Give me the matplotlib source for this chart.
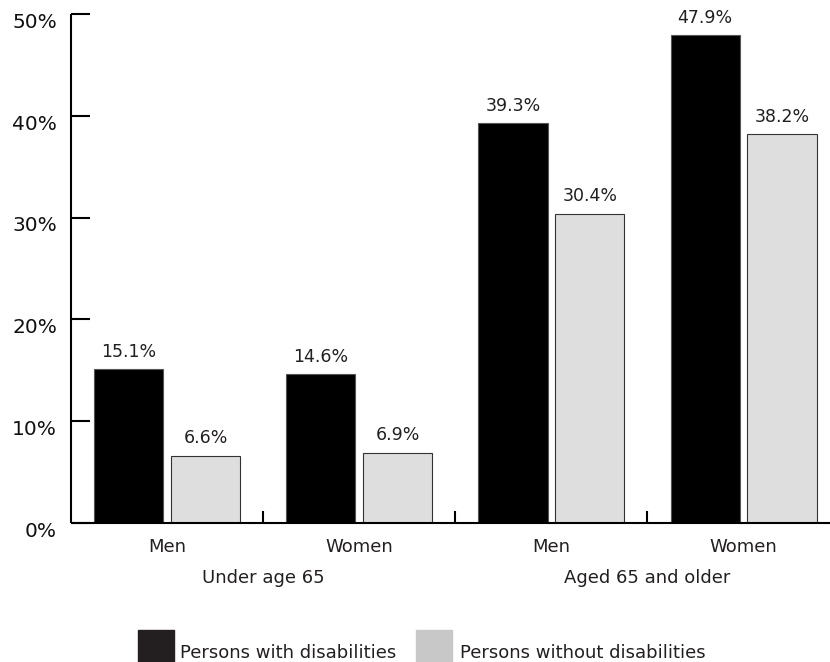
import matplotlib
matplotlib.use("Agg")
import matplotlib.pyplot as plt
import matplotlib.patches as mpatches
import numpy as np

plt.rcParams['font.family'] = ['DejaVu Sans']

categories = ["Men", "Women", "Men", "Women"]
groups = ["Under age 65", "Aged 65 and older"]
with_dis = [15.1, 14.6, 39.3, 47.9]
without_dis = [6.6, 6.9, 30.4, 38.2]
yticks = [0, 10, 20, 30, 40, 50]
ytick_labels = ["0%", "10%", "20%", "30%", "40%", "50%"]
legend_labels = ["Persons with disabilities", "Persons without disabilities"]

fig = plt.figure(figsize=(8.3, 6.62), dpi=100)
ax = fig.add_axes([71 / 830, 139 / 662, 1 - 71 / 830, 509 / 662])

x = np.arange(len(categories))
w = 0.36
off = 0.2
b1 = ax.bar(x - off, with_dis, w, color="black", edgecolor="#555555", linewidth=0.8)
b2 = ax.bar(x + off, without_dis, w, color="#dedede", edgecolor="#333333", linewidth=0.8)

for bars, vals in ((b1, with_dis), (b2, without_dis)):
    for r, v in zip(bars, vals):
        ax.annotate(f"{v}%", (r.get_x() + r.get_width() / 2, v),
                    xytext=(0, 6), textcoords="offset points",
                    ha="center", va="bottom", fontsize=12.5, color="#231f20")

ax.set_xlim(-0.5, 3.45)
ax.set_ylim(0, 50)
for s in ("top", "right"):
    ax.spines[s].set_visible(False)
for s in ("left", "bottom"):
    ax.spines[s].set_linewidth(1.5)
    ax.spines[s].set_capstyle("butt")

ax.set_yticks(yticks)
ax.set_yticklabels([])
ax.tick_params(axis="y", direction="in", length=14, width=1.5)
ax.set_xticks([0.5, 1.5, 2.5])
ax.set_xticklabels([])
ax.tick_params(axis="x", direction="in", length=9, width=1.5)

# y tick labels sit a little below their tick marks
for v, lab in zip(yticks, ytick_labels):
    ax.annotate(lab, (0, v), xycoords=("axes fraction", "data"),
                xytext=(-10, -6), textcoords="offset points",
                ha="right", va="center", fontsize=14.5, color="#111111")

for xi, c in zip(x, categories):
    ax.annotate(c, (xi, 0), xycoords=("data", "axes fraction"),
                xytext=(0, -11), textcoords="offset points",
                ha="center", va="top", fontsize=13, color="#231f20")
for gi, g in enumerate(groups):
    ax.annotate(g, (gi * 2 + 0.5, 0), xycoords=("data", "axes fraction"),
                xytext=(0, -33), textcoords="offset points",
                ha="center", va="top", fontsize=13, color="#231f20")

# legend drawn in figure pixel coordinates
W, H = 830, 662
for sx, tx, col, lab in ((138, 180, "#231f20", legend_labels[0]),
                         (416, 460, "#c8c8c8", legend_labels[1])):
    fig.patches.append(mpatches.Rectangle((sx / W, 0), 36 / W, 32 / H,
                                          transform=fig.transFigure,
                                          color=col, figure=fig))
    fig.text(tx / W, 4 / H, lab, ha="left", va="baseline", fontsize=13, color="#231f20")

fig.savefig("out.png", dpi=100)
